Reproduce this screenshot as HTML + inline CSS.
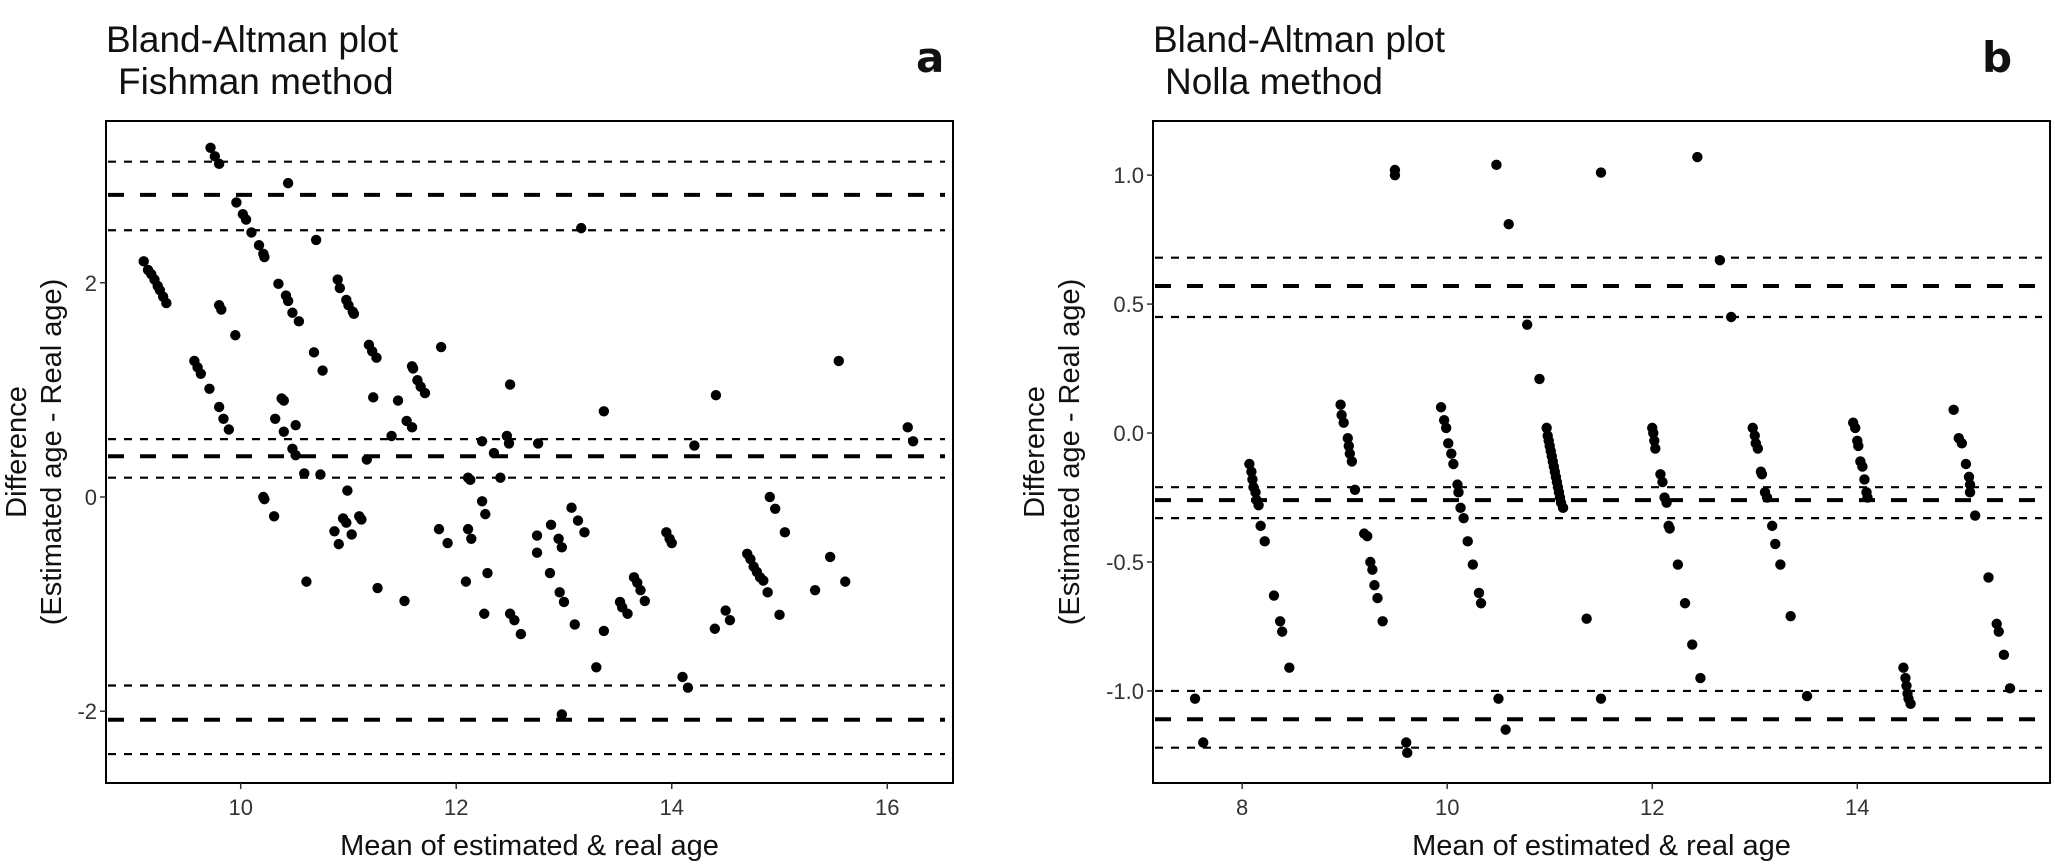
<!DOCTYPE html>
<html><head><meta charset="utf-8"><style>
html,body{margin:0;padding:0;background:#fff;}
svg{display:block;font-family:"Liberation Sans",sans-serif;}
</style></head><body>
<svg id="fig" width="2055" height="867" viewBox="0 0 2055 867"></svg>
<script>
// ---- Panel a (Fishman) data ----
const aX = [9.10,9.14,9.17,9.20,9.23,9.25,9.28,9.31,9.57,9.60,9.63,9.71,9.80,9.84,9.89,9.72,9.76,9.80,9.80,9.82,9.95,9.96,10.02,10.05,10.10,10.17,10.21,10.22,10.44,10.35,10.42,10.44,10.48,10.54,10.38,10.40,10.32,10.40,10.48,10.51,10.51,10.21,10.22,10.31,10.59,10.61,10.70,10.68,10.76,10.74,10.90,10.92,10.98,11.00,11.04,11.05,10.99,10.87,10.91,10.95,10.98,11.03,11.10,11.12,11.19,11.22,11.26,11.23,11.17,11.27,11.46,11.40,11.54,11.59,11.52,11.59,11.60,11.64,11.67,11.71,11.86,11.84,11.92,12.09,12.11,12.14,12.11,12.13,12.24,12.24,12.27,12.29,12.26,12.35,12.41,12.47,12.49,12.50,12.50,12.54,12.60,12.76,12.75,12.75,12.87,12.88,12.95,12.98,12.96,13.00,12.98,13.07,13.13,13.19,13.10,13.16,13.30,13.37,13.37,13.52,13.54,13.59,13.65,13.68,13.71,13.75,13.95,13.98,14.00,14.10,14.15,14.21,14.41,14.40,14.50,14.54,14.70,14.73,14.76,14.79,14.82,14.85,14.89,14.91,14.96,15.05,15.00,15.33,15.47,15.55,15.61,16.19,16.24];
const aY = [2.20,2.12,2.08,2.03,1.97,1.93,1.87,1.81,1.27,1.21,1.15,1.01,0.84,0.73,0.63,3.26,3.18,3.11,1.79,1.75,1.51,2.75,2.64,2.59,2.47,2.35,2.27,2.24,2.93,1.99,1.88,1.83,1.72,1.64,0.92,0.90,0.73,0.61,0.45,0.39,0.67,0.00,-0.02,-0.18,0.22,-0.79,2.40,1.35,1.18,0.21,2.03,1.95,1.84,1.79,1.73,1.71,0.06,-0.32,-0.44,-0.20,-0.24,-0.35,-0.18,-0.21,1.42,1.36,1.30,0.93,0.35,-0.85,0.90,0.57,0.71,0.65,-0.97,1.22,1.20,1.09,1.03,0.97,1.40,-0.30,-0.43,-0.79,-0.30,-0.39,0.18,0.16,0.52,-0.04,-0.16,-0.71,-1.09,0.41,0.18,0.57,0.50,1.05,-1.09,-1.15,-1.28,0.50,-0.36,-0.52,-0.71,-0.26,-0.39,-0.47,-0.89,-0.98,-2.03,-0.10,-0.22,-0.33,-1.19,2.51,-1.59,-1.25,0.80,-0.98,-1.03,-1.09,-0.75,-0.80,-0.87,-0.97,-0.33,-0.39,-0.43,-1.68,-1.78,0.48,0.95,-1.23,-1.06,-1.15,-0.53,-0.58,-0.65,-0.70,-0.75,-0.78,-0.89,0.00,-0.11,-0.33,-1.10,-0.87,-0.56,1.27,-0.79,0.65,0.52];
const aLinesBold = [2.82,0.38,-2.08];
const aLinesDot = [3.13,2.49,0.54,0.18,-1.76,-2.40];
const aXTicks = [10,12,14,16];
const aYTicks = [-2,0,2];
const aYTickLabels = ["-2","0","2"];

// ---- Panel b (Nolla) data ----
const bX = [7.54,7.62,8.07,8.09,8.10,8.11,8.13,8.14,8.16,8.18,8.22,8.31,8.37,8.39,8.46,8.96,8.97,8.99,9.03,9.04,9.05,9.07,9.10,9.19,9.22,9.25,9.27,9.29,9.32,9.37,9.49,9.49,9.60,9.61,9.94,9.97,9.99,10.01,10.04,10.06,10.10,10.11,10.13,10.16,10.20,10.25,10.31,10.33,10.48,10.60,10.50,10.57,10.78,10.90,10.97,10.98,10.99,11.00,11.01,11.02,11.03,11.04,11.05,11.06,11.07,11.08,11.09,11.10,11.11,11.13,11.36,11.50,11.50,12.00,12.01,12.02,12.03,12.08,12.10,12.12,12.14,12.16,12.17,12.25,12.32,12.39,12.47,12.44,12.66,12.77,12.98,13.00,13.01,13.03,13.06,13.07,13.10,13.12,13.17,13.20,13.25,13.35,13.51,13.96,13.98,14.00,14.01,14.03,14.05,14.07,14.09,14.10,14.45,14.47,14.48,14.49,14.50,14.52,14.94,14.99,15.02,15.06,15.09,15.10,15.10,15.15,15.28,15.36,15.38,15.43,15.49];
const bY = [-1.03,-1.20,-0.12,-0.15,-0.18,-0.21,-0.23,-0.26,-0.28,-0.36,-0.42,-0.63,-0.73,-0.77,-0.91,0.11,0.07,0.04,-0.02,-0.05,-0.08,-0.11,-0.22,-0.39,-0.40,-0.50,-0.53,-0.59,-0.64,-0.73,1.02,1.00,-1.20,-1.24,0.10,0.05,0.02,-0.04,-0.08,-0.12,-0.20,-0.23,-0.29,-0.33,-0.42,-0.51,-0.62,-0.66,1.04,0.81,-1.03,-1.15,0.42,0.21,0.02,-0.01,-0.03,-0.05,-0.07,-0.09,-0.11,-0.13,-0.15,-0.17,-0.19,-0.21,-0.23,-0.25,-0.27,-0.29,-0.72,1.01,-1.03,0.02,0.00,-0.03,-0.06,-0.16,-0.19,-0.25,-0.27,-0.36,-0.37,-0.51,-0.66,-0.82,-0.95,1.07,0.67,0.45,0.02,-0.01,-0.04,-0.06,-0.15,-0.16,-0.23,-0.25,-0.36,-0.43,-0.51,-0.71,-1.02,0.04,0.02,-0.03,-0.05,-0.11,-0.13,-0.18,-0.23,-0.25,-0.91,-0.95,-0.98,-1.01,-1.03,-1.05,0.09,-0.02,-0.04,-0.12,-0.17,-0.20,-0.23,-0.32,-0.56,-0.74,-0.77,-0.86,-0.99];
const bLinesBold = [0.57,-0.26,-1.11];
const bLinesDot = [0.68,0.45,-0.21,-0.33,-1.00,-1.22];
const bXTicks = [8,10,12,14];
const bYTicks = [-1.0,-0.5,0.0,0.5,1.0];
const bYTickLabels = ["-1.0","-0.5","0.0","0.5","1.0"];

const NS = "http://www.w3.org/2000/svg";
const svg = document.getElementById('fig');
function mk(tag, attrs, parent) {
  const e = document.createElementNS(NS, tag);
  for (const k in attrs) e.setAttribute(k, attrs[k]);
  (parent || svg).appendChild(e);
  return e;
}

function panel(cfg) {
  const g = mk('g', {});
  
  
  const L = cfg.left, R = cfg.right, T = 121, B = 783;
  const sx = v => L + (v - cfg.xmin) / (cfg.xmax - cfg.xmin) * (R - L);
  const sy = v => B - (v - cfg.ymin) / (cfg.ymax - cfg.ymin) * (B - T);

  // title
  const t1 = mk('text', {x: L, y: 52, 'font-size': 37, fill: '#111'}, g);
  t1.textContent = 'Bland-Altman plot';
  
  
  const t2 = mk('text', {x: L + 12, y: 94, 'font-size': 37, fill: '#111'}, g);
  t2.textContent = cfg.method;
  
  
  const pl = mk('text', {x: cfg.letterX, y: 72, 'font-size': 42, 'font-weight': 'bold', fill: '#111', 'font-family': 'DejaVu Sans, sans-serif'}, g);
  pl.textContent = cfg.letter;
  
  

  // reference lines
  cfg.dot.forEach(v => {
    const l = mk('line', {x1: L + 2, x2: R - 8, y1: sy(v), y2: sy(v), stroke: '#000', 'stroke-width': 2.2, 'stroke-dasharray': '8 8'}, g);
    
    
  });
  cfg.bold.forEach(v => {
    const l = mk('line', {x1: L + 2, x2: R - 8, y1: sy(v), y2: sy(v), stroke: '#000', 'stroke-width': 4, 'stroke-dasharray': '16 16'}, g);
    
    
  });

  // points
  cfg.xs.forEach((x, i) => {
    const c = mk('circle', {cx: sx(x), cy: sy(cfg.ys[i]), r: 5.2, fill: '#000'}, g);
    
    
  });

  // frame
  const fr = mk('rect', {x: L, y: T, width: R - L, height: B - T, fill: 'none', stroke: '#000', 'stroke-width': 2}, g);
  
  

  // x ticks
  cfg.xticks.forEach(v => {
    mk('line', {x1: sx(v), x2: sx(v), y1: B, y2: B + 6, stroke: '#333', 'stroke-width': 1.5}, g);
    const tl = mk('text', {x: sx(v), y: B + 32, 'font-size': 22, 'text-anchor': 'middle', fill: '#333'}, g);
    tl.textContent = String(v);
    
    
  });
  // y ticks
  cfg.yticks.forEach((v, i) => {
    mk('line', {x1: L - 6, x2: L, y1: sy(v), y2: sy(v), stroke: '#333', 'stroke-width': 1.5}, g);
    const tl = mk('text', {x: L - 9, y: sy(v) + 8, 'font-size': 22, 'text-anchor': 'end', fill: '#333'}, g);
    tl.textContent = cfg.ylabels[i];
    
    
  });

  // axis titles
  const xt = mk('text', {x: (L + R) / 2, y: 855, 'font-size': 29, 'text-anchor': 'middle', fill: '#111'}, g);
  xt.textContent = 'Mean of estimated & real age';
  
  
  const cy = (T + B) / 2;
  const yt = mk('text', {transform: `translate(${cfg.ytitleX},${cy}) rotate(-90)`, 'font-size': 29, 'text-anchor': 'middle', fill: '#111'}, g);
  
  
  const s1 = mk('tspan', {x: 0, y: 0}, yt); s1.textContent = 'Difference';
  const s2 = mk('tspan', {x: 0, y: 35}, yt); s2.textContent = '(Estimated age - Real age)';
}

panel({name: 'panel-a-fishman', method: 'Fishman method', letter: 'a', letterX: 916,
  left: 106, right: 953, xmin: 8.75, xmax: 16.61, ymin: -2.67, ymax: 3.51,
  xs: aX, ys: aY, bold: aLinesBold, dot: aLinesDot, xticks: aXTicks, yticks: aYTicks, ylabels: aYTickLabels, ytitleX: 26});
panel({name: 'panel-b-nolla', method: 'Nolla method', letter: 'b', letterX: 1982,
  left: 1153, right: 2050, xmin: 7.13, xmax: 15.88, ymin: -1.357, ymax: 1.21,
  xs: bX, ys: bY, bold: bLinesBold, dot: bLinesDot, xticks: bXTicks, yticks: bYTicks, ylabels: bYTickLabels, ytitleX: 1044});
</script>
</body></html>
